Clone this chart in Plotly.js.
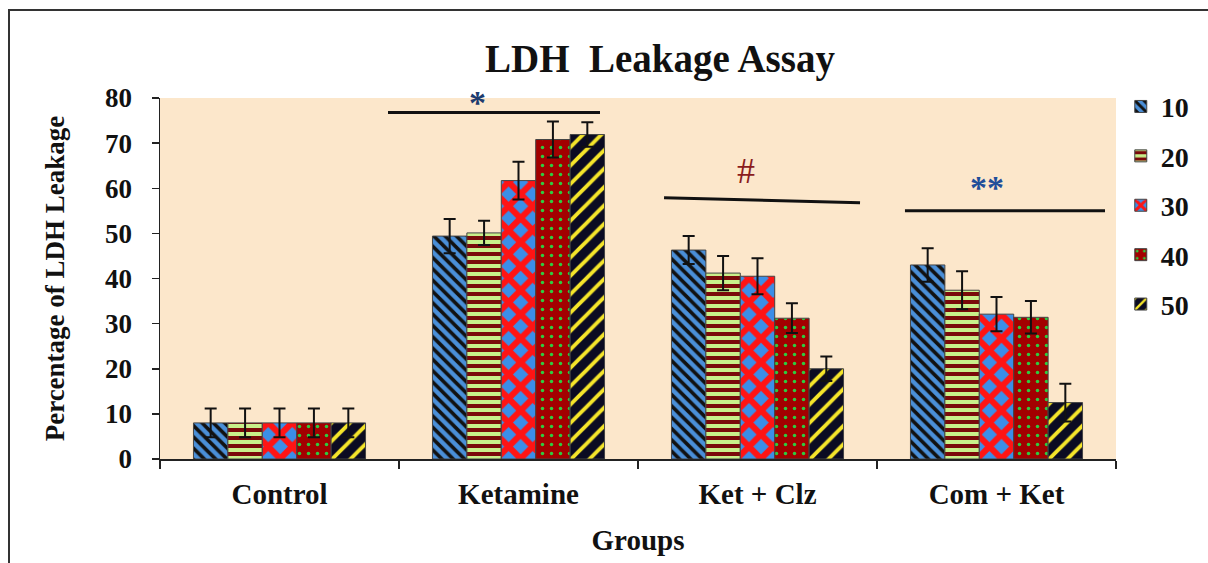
<!DOCTYPE html>
<html>
<head>
<meta charset="utf-8">
<script src="https://cdn.plot.ly/plotly-3.0.1.min.js"></script>
<style>
  html, body { margin: 0; padding: 0; background: #ffffff; }
  #chart { width: 1208px; height: 563px; position: relative; }
  #frame { position: absolute; left: 8px; top: 9px; width: 1300px; height: 700px;
           border-left: 2px solid #333; border-top: 2px solid #333; pointer-events: none; }
  #wrap { position: relative; width: 1208px; height: 563px; overflow: hidden; }
</style>
</head>
<body>
<div id="wrap">
  <div id="chart"></div>
  <div id="frame"></div>
</div>
<script>
// ---- data ----
const groups = ["Control", "Ketamine", "Ket + Clz", "Com + Ket"];
const seriesNames = ["10", "20", "30", "40", "50"];
const s10 = [8, 49.4, 46.3, 43.0];
const s20 = [8, 50.1, 41.2, 37.4];
const s30 = [8, 61.7, 40.5, 32.1];
const s40 = [8, 70.8, 31.2, 31.4];
const s50 = [8, 71.9, 20.0, 12.5];
const e10 = [3.2, 3.8, 3.1, 3.7];
const e20 = [3.2, 2.7, 3.8, 4.2];
const e30 = [3.2, 4.2, 4.0, 3.8];
const e40 = [3.2, 4.0, 3.3, 3.6];
const e50 = [3.2, 2.7, 2.7, 4.2];
const yTicks = [0, 10, 20, 30, 40, 50, 60, 70, 80];
const marks = ["*", "#", "**"];

// ---- styles ----
const values = [s10, s20, s30, s40, s50];
const errors = [e10, e20, e30, e40, e50];
const styles = [
  {bg: "#4a8fd8", fg: "#111111", shape: "\\", size: 8, solidity: 0.45},
  {bg: "#c8f08a", fg: "#7a0a0a", shape: "-", size: 8, solidity: 0.5},
  {bg: "#3b8ee8", fg: "#ff1414", shape: "x", size: 17, solidity: 0.6},
  {bg: "#a30000", fg: "#2ecc40", shape: ".", size: 9, solidity: 0.12},
  {bg: "#0b0b22", fg: "#f5e52a", shape: "/", size: 13, solidity: 0.3}
];
const serif = "Liberation Serif, Times New Roman, serif";

const traces = seriesNames.map((name, i) => ({
  type: "bar",
  name: name,
  x: groups,
  y: values[i],
  legendgroup: "g" + i,
  error_y: {type: "data", array: errors[i], visible: true, color: "#111111", thickness: 2, width: 6},
  marker: {
    color: styles[i].bg,
    line: {color: "#444444", width: 1},
    pattern: {shape: styles[i].shape, fgcolor: styles[i].fg, bgcolor: styles[i].bg,
              size: styles[i].size, solidity: styles[i].solidity, fillmode: "replace"}
  }
}));

const lineShape = (x0, x1, y0, y1) => ({type: "line", xref: "x", yref: "y", x0: x0, x1: x1, y0: y0, y1: y1,
  line: {color: "#111111", width: 3}});

const layout = {
  width: 1208, height: 563,
  margin: {l: 160, r: 92, t: 98, b: 104},
  paper_bgcolor: "rgba(0,0,0,0)",
  plot_bgcolor: "#fce7cb",
  barmode: "group",
  bargap: 0.28,
  bargroupgap: 0,
  showlegend: true,
  title: {text: "<b>LDH  Leakage Assay</b>", font: {family: serif, size: 39, color: "#111"},
          x: 0.523, xref: "paper", xanchor: "center", y: 0.897, yref: "container", yanchor: "middle"},
  xaxis: {
    type: "category",
    tickson: "boundaries",
    ticks: "outside", ticklen: 8, tickcolor: "#222", tickwidth: 1.5,
    showline: true, linecolor: "#222", linewidth: 1.5,
    showgrid: false,
    ticklabelstandoff: 9,
    tickfont: {family: serif, size: 29, color: "#111", weight: "bold"},
    title: {text: "<b>Groups</b>", font: {family: serif, size: 29, color: "#111"}, standoff: 20}
  },
  yaxis: {
    range: [0, 80],
    tickvals: yTicks,
    ticks: "outside", ticklen: 7, tickcolor: "#222", tickwidth: 1.5,
    showline: true, linecolor: "#222", linewidth: 1.5,
    showgrid: false, zeroline: false,
    ticklabelstandoff: 14,
    tickfont: {family: serif, size: 27, color: "#111", weight: "bold"},
    title: {text: "<b>Percentage of LDH Leakage</b>", font: {family: serif, size: 27, color: "#111"}, standoff: 32}
  },
  legend: {
    x: 1.005, xanchor: "left", y: 1.045, yanchor: "top",
    font: {family: serif, size: 28, color: "#111", weight: "bold"},
    tracegroupgap: 10,
    bgcolor: "rgba(0,0,0,0)"
  },
  shapes: [
    lineShape(0.454, 1.341, 76.8, 76.8),
    lineShape(1.609, 2.429, 57.9, 56.8),
    lineShape(2.617, 3.454, 55.0, 55.0)
  ],
  annotations: [
    {x: 0.83, y: 79.0, xref: "x", yref: "y", text: "<b>" + marks[0] + "</b>", showarrow: false,
     font: {family: serif, size: 34, color: "#1d3b6e"}},
    {x: 1.95, y: 63.9, xref: "x", yref: "y", text: marks[1], showarrow: false,
     font: {family: serif, size: 36, color: "#8b1c1c"}},
    {x: 2.96, y: 60.2, xref: "x", yref: "y", text: "<b>" + marks[2] + "</b>", showarrow: false,
     font: {family: serif, size: 34, color: "#1f4e9a"}}
  ]
};

Plotly.newPlot("chart", traces, layout, {displayModeBar: false, staticPlot: true});
</script>
</body>
</html>
